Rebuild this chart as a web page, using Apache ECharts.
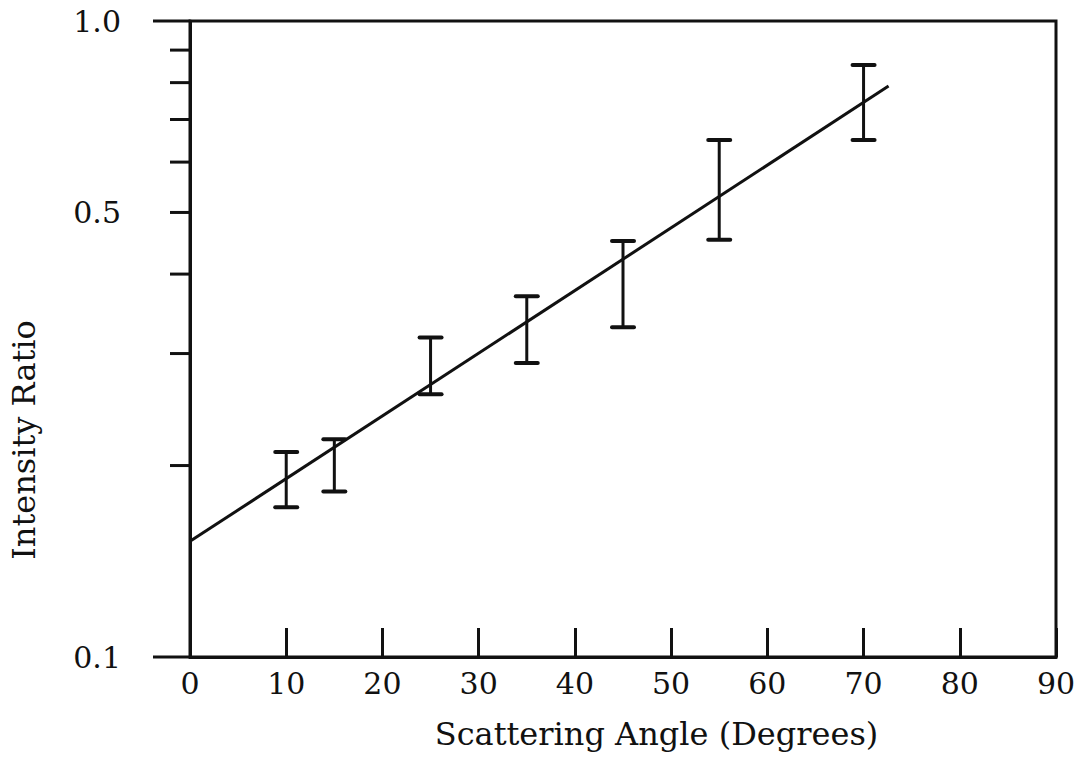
<!DOCTYPE html>
<html>
<head>
<meta charset="utf-8">
<title>Intensity Ratio vs Scattering Angle</title>
<script src="https://cdn.jsdelivr.net/npm/echarts@6/dist/echarts.min.js"></script>
<style>
  html, body { margin: 0; padding: 0; background: #ffffff; }
  #chart { width: 1079px; height: 763px; }
</style>
</head>
<body>
<div id="chart"></div>
<script>
// Measured angles (degrees) with the lower and upper ends of each error bar
const angles = [10, 15, 25, 35, 45, 55, 70];
const ratioLow = [0.172, 0.182, 0.259, 0.290, 0.330, 0.453, 0.650];
const ratioHigh = [0.210, 0.220, 0.318, 0.369, 0.451, 0.650, 0.853];

// Straight-line fit on the semi-log plot (end points of the drawn line)
const fitAngles = [0, 72.6];
const fitRatios = [0.152, 0.790];

// Axis tick values
const xTicks = [0, 10, 20, 30, 40, 50, 60, 70, 80, 90];
const yMinorTicks = [0.2, 0.3, 0.4, 0.5, 0.6, 0.7, 0.8, 0.9];
const yMajorTicks = [0.1, 1.0];
const yTickLabels = [0.1, 0.5, 1.0];

const INK = '#111111';
const FONT = '"DejaVu Serif", "Liberation Serif", serif';

const errorRows = angles.map((a, i) => [a, ratioLow[i], ratioHigh[i]]);
const fitRows = fitAngles.map((a, i) => [a, fitRatios[i]]);
const tickRows = yMinorTicks.map(v => [0, v, 20]).concat(yMajorTicks.map(v => [0, v, 37]));
const labelRows = yTickLabels.map(v => [0, v]);

const chart = echarts.init(document.getElementById('chart'), null, { renderer: 'svg' });

chart.setOption({
  backgroundColor: '#ffffff',
  animation: false,
  grid: {
    left: 187, right: 23, top: 21, bottom: 106,
    show: true, borderColor: INK, borderWidth: 3, backgroundColor: 'transparent'
  },
  xAxis: {
    type: 'value',
    min: xTicks[0], max: xTicks[xTicks.length - 1], interval: 10,
    name: 'Scattering Angle (Degrees)',
    nameLocation: 'middle',
    nameGap: 61,
    nameTextStyle: { fontFamily: FONT, fontSize: 32, color: INK, padding: [0, 0, 0, 67] },
    axisLine: { show: true, lineStyle: { color: INK, width: 3 } },
    axisTick: { show: true, inside: true, length: 29, lineStyle: { color: INK, width: 3 } },
    axisLabel: { fontFamily: FONT, fontSize: 30, color: INK, margin: 11 },
    splitLine: { show: false }
  },
  yAxis: {
    type: 'log', logBase: 10,
    min: 0.1, max: 1,
    name: 'Intensity Ratio',
    nameLocation: 'middle',
    nameGap: 150,
    nameRotate: 90,
    nameTextStyle: { fontFamily: FONT, fontSize: 32, color: INK, padding: [0, 202, 0, 0] },
    axisLine: { show: true, lineStyle: { color: INK, width: 3 } },
    axisTick: { show: false },
    axisLabel: { show: false },
    splitLine: { show: false }
  },
  series: [
    {
      // fitted line
      type: 'line',
      data: fitRows,
      showSymbol: false,
      symbol: 'none',
      lineStyle: { color: INK, width: 3 },
      z: 3
    },
    {
      // error bars
      type: 'custom',
      data: errorRows,
      encode: { x: 0, y: [1, 2] },
      renderItem: function (params, api) {
        const x = api.value(0);
        const lo = api.coord([x, api.value(1)]);
        const hi = api.coord([x, api.value(2)]);
        const half = 11;
        const capStyle = { stroke: INK, lineWidth: 4, lineCap: 'round' };
        return {
          type: 'group',
          children: [
            { type: 'line', shape: { x1: lo[0], y1: lo[1], x2: hi[0], y2: hi[1] }, style: { stroke: INK, lineWidth: 3 } },
            { type: 'line', shape: { x1: hi[0] - half, y1: hi[1], x2: hi[0] + half, y2: hi[1] }, style: capStyle },
            { type: 'line', shape: { x1: lo[0] - half, y1: lo[1], x2: lo[0] + half, y2: lo[1] }, style: capStyle }
          ]
        };
      },
      z: 4
    },
    {
      // outward ticks on the logarithmic axis
      type: 'custom',
      data: tickRows,
      encode: { x: 0, y: 1 },
      clip: false,
      silent: true,
      renderItem: function (params, api) {
        const p = api.coord([api.value(0), api.value(1)]);
        const len = api.value(2);
        return {
          type: 'line',
          shape: { x1: p[0] - len, y1: p[1], x2: p[0], y2: p[1] },
          style: { stroke: INK, lineWidth: 3 }
        };
      },
      z: 5
    },
    {
      // labels on the logarithmic axis
      type: 'custom',
      data: labelRows,
      encode: { x: 0, y: 1 },
      clip: false,
      silent: true,
      renderItem: function (params, api) {
        const p = api.coord([api.value(0), api.value(1)]);
        return {
          type: 'text',
          x: p[0] - 69,
          y: p[1],
          style: {
            text: api.value(1).toFixed(1),
            fill: INK,
            fontFamily: FONT,
            fontSize: 30,
            align: 'right',
            verticalAlign: 'middle'
          }
        };
      },
      z: 5
    }
  ]
});
</script>
</body>
</html>
